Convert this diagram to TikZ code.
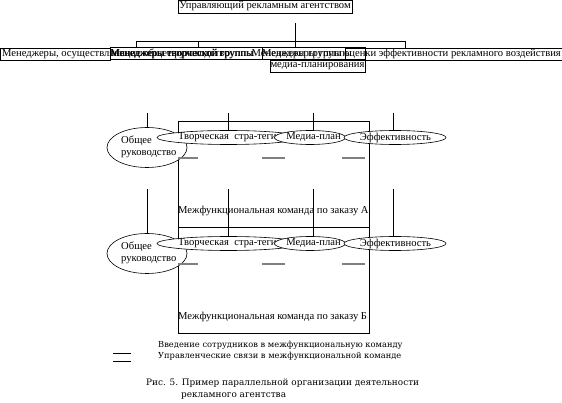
\documentclass[tikz,border=0pt]{standalone}
\usepackage{fontspec}
\setmainfont{Liberation Serif}
\newfontfamily\legfont{DejaVu Serif}
\usetikzlibrary{shapes.geometric}
\begin{document}
\begin{tikzpicture}[x=1pt,y=-1pt,
  txt/.style={inner sep=0pt, font=\fontsize{10.6}{12}\selectfont},
  legtxt/.style={inner sep=0pt, font=\legfont\fontsize{8.3}{10}\selectfont},
  captxt/.style={inner sep=0pt, font=\legfont\fontsize{8.9}{10}\selectfont},
  box/.style={draw, line width=0.6pt, inner sep=0pt},
  bbox/.style={draw, line width=1pt, inner sep=0pt},
  ell/.style={draw, ellipse, fill=white, inner sep=0pt, line width=0.6pt},
  dsh/.style={draw=gray, line width=1.1pt},
  ln/.style={line width=0.6pt}]
\useasboundingbox (0,0) rectangle (562,403);

% top box
\node[box, minimum width=174pt, minimum height=13pt] (top) at (265,6.5) {};
\node[txt] (topt) at (265,6.5) {Управляющий рекламным агентством};

% row of boxes
\node[box, minimum width=110pt, minimum height=12pt] (r1) at (55,54) {};
\node[bbox, minimum width=152pt, minimum height=12pt] (r2) at (186,54) {};
\node[bbox, minimum width=103pt, minimum height=12pt] (r3) at (313.5,54) {};
\node[box, minimum width=95pt, minimum height=12pt] (r3b) at (317.5,66) {};
\node[box, minimum width=217pt, minimum height=12pt] (r4) at (453.5,54) {};

\node[txt, anchor=west] (m1) at (2,54) {Менеджеры, осуществляющие общее руководство};
\node[txt, anchor=west] (m2) at (110,54) {Менеджеры творческой группы};
\node[txt, anchor=west] (m2b) at (110.5,54) {Менеджеры творческой группы};
\node[txt, anchor=west] (m3) at (262,54) {Менеджеры группы};
\node[txt] (m3b) at (317.5,66) {медиа-планирования};
\node[txt, anchor=east] (m4) at (561,54) {Менеджеры группы оценки эффективности рекламного воздействия};

% connectors from top
\coordinate (t0) at (295,23);
\coordinate (d1) at (136,41);
\coordinate (d2) at (198,41);
\coordinate (d4) at (405,41);
\draw[ln] (t0) -- (t0 |- r3.north);
\draw[ln] (d1) -- (d4);
\draw[ln] (d1) -- (d1 |- r2.north);
\draw[ln] (d2) -- (d2 |- r2.north);
\draw[ln] (d4) -- (d4 |- r4.north);

% two groups
\foreach \o/\L/\n/\t in {0/А/a/113,106/Б/b/189}{
  \node[box, minimum width=191pt, minimum height=106pt] (rect\n) at (273.5,174+\o) {};
  \node[txt, anchor=west] (mf\n) at (178,211+\o) {Межфункциональная команда по заказу \L};
  \coordinate (cob\n) at (147,147.5+\o);
  \coordinate (ctv\n) at (228,137.5+\o);
  \coordinate (cmd\n) at (313,137.5+\o);
  \coordinate (cef\n) at (393,137.5+\o);
  \coordinate (sob\n) at (147,\t);
  \coordinate (stv\n) at (228,\t);
  \coordinate (smd\n) at (313,\t);
  \coordinate (sef\n) at (393,\t);
  \draw[ln] (sob\n) -- (cob\n);
  \draw[ln] (stv\n) -- (ctv\n);
  \draw[ln] (smd\n) -- (cmd\n);
  \draw[ln] (sef\n) -- (cef\n);
  \node[ell, minimum width=80pt, minimum height=40pt] (ob\n) at (cob\n) {};
  \node[txt, align=left, anchor=west] (obt\n) at (121,146.5+\o) {Общее\\руководство};
  \node[ell, minimum width=143pt, minimum height=14pt] (tv\n) at (228.5,137.5+\o) {};
  \node[txt, anchor=west] (tvt\n) at (178,137.5+\o) {Творческая\ \ стра-тегия};
  \node[ell, minimum width=71pt, minimum height=14pt] (md\n) at (310,137.5+\o) {};
  \node[txt] (mdt\n) at (313.5,137.5+\o) {Медиа-план};
  \node[ell, minimum width=102pt, minimum height=14pt] (ef\n) at (395,137.5+\o) {};
  \node[txt] (eft\n) at (395.5,137.5+\o) {Эффективность};
  \draw[dsh] (178,158+\o) -- (198,158+\o);
  \draw[dsh] (262,158+\o) -- (285,158+\o);
  \draw[dsh] (342,158+\o) -- (365,158+\o);
}

% legend
\coordinate (la1) at (113,353);
\coordinate (lb1) at (131,353);
\coordinate (la2) at (113,361);
\coordinate (lb2) at (131,361);
\draw[ln] (la1) -- (lb1);
\draw[ln] (la2) -- (lb2);
\node[legtxt, anchor=west] (lg1) at (158,345) {Введение сотрудников в межфункциональную команду};
\node[legtxt, anchor=west] (lg2) at (158,356) {Управленческие связи в межфункциональной команде};

% caption
\node[captxt, anchor=west] (cap1) at (146,383) {Рис. 5. Пример параллельной организации деятельности};
\node[captxt, anchor=west] (cap2) at (181,396) {рекламного агентства};
\end{tikzpicture}
\end{document}
